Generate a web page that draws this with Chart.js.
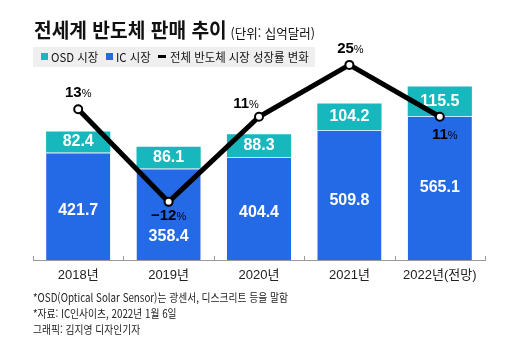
<!DOCTYPE html>
<html lang="ko">
<head>
<meta charset="utf-8">
<script src="https://cdn.jsdelivr.net/npm/chart.js@4/dist/chart.umd.min.js"></script>
<style>
    html, body { margin: 0; padding: 0; background: #fff; }
    #wrap { position: relative; width: 520px; height: 347px; overflow: hidden; font-family: 'Noto Sans CJK KR', sans-serif; color: #111; }
    #grafico { position: absolute; left: 0; top: 0; }
    .txt { position: absolute; white-space: nowrap; transform-origin: left center; }
    #titulo { left: 34px; top: 17px; font-size: 20px; font-weight: 700; line-height: 26px; transform: scaleX(0.96); }
    #titulo small { font-size: 13px; font-weight: 400; margin-left: 4px; }
    #legenda { position: absolute; left: 33px; top: 47px; width: 282px; height: 20px; background: #efefef; }
    .leg { position: absolute; top: 0; line-height: 20px; font-size: 12px; white-space: nowrap; transform-origin: left center; transform: scaleX(0.95); }
    .caixa { position: absolute; top: 6px; width: 7px; height: 7px; }
    .nota { left: 33px; font-size: 11.5px; line-height: 16px; color: #222; transform: scaleX(0.85); }
</style>
</head>
<body>
<div id="wrap">
    <canvas id="grafico" width="520" height="347"></canvas>
    <div id="titulo" class="txt">전세계 반도체 판매 추이<small>(단위: 십억달러)</small></div>
    <div id="legenda">
        <div class="caixa" style="left:8px;background:#16b8bd"></div>
        <div class="leg" style="left:18px">OSD 시장</div>
        <div class="caixa" style="left:73px;background:#2469e6"></div>
        <div class="leg" style="left:83px">IC 시장</div>
        <div style="position:absolute;left:125px;top:8px;width:8px;height:3px;background:#000"></div>
        <div class="leg" style="left:137px">전체 반도체 시장 성장률 변화</div>
    </div>
    <div class="txt nota" style="top:289px">*OSD(Optical Solar Sensor)는 광센서, 디스크리트 등을 말함</div>
    <div class="txt nota" style="top:305px">*자료: IC인사이츠, 2022년 1월 6일</div>
    <div class="txt nota" style="top:321px">그래픽: 김지영 디자인기자</div>
</div>
<script>
const anos = ['2018년', '2019년', '2020년', '2021년', '2022년(전망)'];
const vendasIC = [421.7, 358.4, 404.4, 509.8, 565.1];
const vendasOSD = [82.4, 86.1, 88.3, 104.2, 115.5];
const crescimento = [13, -12, 11, 25, 11];

const corIC = '#2469e6';
const corOSD = '#16b8bd';
const fonteNum = "'Liberation Sans Narrow', 'Liberation Sans', sans-serif";

// deslocamento dos rótulos (rótulo de % e valor do IC em 2019)
const posPercentual = [
    { dx: 0, dy: -16 },
    { dx: 0, dy: 14 },
    { dx: -13, dy: -13 },
    { dx: 1, dy: -16 },
    { dx: 5, dy: 18 }
];
const ajusteIC = [4, 22, 4, 6, 0];

const marcasEixo = {
    id: 'marcasEixo',
    afterDraw(chart) {
        const x = chart.scales.x;
        const ctx = chart.ctx;
        const meio = (x.getPixelForValue(1) - x.getPixelForValue(0)) / 2;
        ctx.save();
        ctx.strokeStyle = '#999';
        ctx.lineWidth = 1;
        for (let i = 0; i <= anos.length; i++) {
            const px = Math.round(x.getPixelForValue(0) - meio + i * meio * 2) + 0.5;
            ctx.beginPath();
            ctx.moveTo(px, x.top);
            ctx.lineTo(px, x.top - 4);
            ctx.stroke();
        }
        ctx.restore();
    }
};

const rotulosBarras = {
    id: 'rotulosBarras',
    afterDatasetDraw(chart, args) {
        if (args.index > 1) return;
        const ctx = chart.ctx;
        const meta = args.meta;
        const valores = args.index === 0 ? vendasIC : vendasOSD;
        ctx.save();
        ctx.fillStyle = '#fff';
        ctx.font = 'bold 16px ' + fonteNum;
        ctx.textAlign = 'center';
        ctx.textBaseline = 'middle';
        meta.data.forEach((barra, i) => {
            const meioY = (barra.y + barra.base) / 2;
            const dy = args.index === 0 ? ajusteIC[i] : 0;
            ctx.fillText(valores[i].toFixed(1), barra.x, meioY + dy);
        });
        ctx.restore();
    }
};

const rotulosPercentual = {
    id: 'rotulosPercentual',
    afterDatasetsDraw(chart) {
        const ctx = chart.ctx;
        const meta = chart.getDatasetMeta(2);
        ctx.save();
        ctx.fillStyle = '#000';
        ctx.textBaseline = 'middle';
        meta.data.forEach((ponto, i) => {
            const num = crescimento[i] < 0 ? '\u2212' + Math.abs(crescimento[i]) : String(crescimento[i]);
            ctx.font = 'bold 15px ' + fonteNum;
            const wNum = ctx.measureText(num).width;
            ctx.font = '11px ' + fonteNum;
            const wPct = ctx.measureText('%').width;
            const inicio = ponto.x + posPercentual[i].dx - (wNum + wPct) / 2;
            const y = ponto.y + posPercentual[i].dy;
            ctx.textAlign = 'left';
            ctx.font = 'bold 15px ' + fonteNum;
            ctx.fillText(num, inicio, y);
            ctx.font = '11px ' + fonteNum;
            ctx.fillText('%', inicio + wNum, y + 1);
        });
        ctx.restore();
    }
};

const criarGrafico = () => {
    const ctx = document.querySelector('#grafico');
    new Chart(ctx, {
        type: 'bar',
        data: {
            labels: anos,
            datasets: [
                {
                    label: 'IC 시장',
                    data: vendasIC,
                    backgroundColor: corIC,
                    borderColor: 'rgba(200, 225, 255, 0.9)',
                    borderWidth: { top: 1, left: 0, right: 0, bottom: 0 },
                    borderSkipped: false,
                    yAxisID: 'y',
                    order: 2,
                    categoryPercentage: 1,
                    barPercentage: 0.71
                },
                {
                    label: 'OSD 시장',
                    data: vendasOSD,
                    backgroundColor: corOSD,
                    yAxisID: 'y',
                    order: 2,
                    categoryPercentage: 1,
                    barPercentage: 0.71
                },
                {
                    type: 'line',
                    label: '전체 반도체 시장 성장률 변화',
                    data: crescimento,
                    yAxisID: 'y2',
                    borderColor: '#000',
                    borderWidth: 5,
                    tension: 0,
                    pointRadius: 4,
                    pointBorderWidth: 2,
                    pointBackgroundColor: '#fff',
                    pointBorderColor: '#000',
                    clip: false,
                    order: 0
                }
            ]
        },
        options: {
            responsive: false,
            animation: false,
            layout: { padding: { left: 33, right: 35, top: 56, bottom: 63 } },
            plugins: {
                legend: { display: false },
                title: { display: false },
                tooltip: { enabled: false }
            },
            scales: {
                x: {
                    stacked: true,
                    grid: { display: false, drawTicks: false },
                    border: { color: '#999' },
                    ticks: {
                        color: '#222',
                        padding: 8,
                        font: { family: "'Liberation Sans', 'Noto Sans CJK KR', sans-serif", size: 13 }
                    },
                    afterFit: (scale) => { scale.height = 24; }
                },
                y: { stacked: true, display: false, min: 0, max: 800 },
                y2: { display: false, min: -27.7, max: 27.4 }
            }
        },
        plugins: [marcasEixo, rotulosBarras, rotulosPercentual]
    });
};

criarGrafico();
</script>
</body>
</html>
